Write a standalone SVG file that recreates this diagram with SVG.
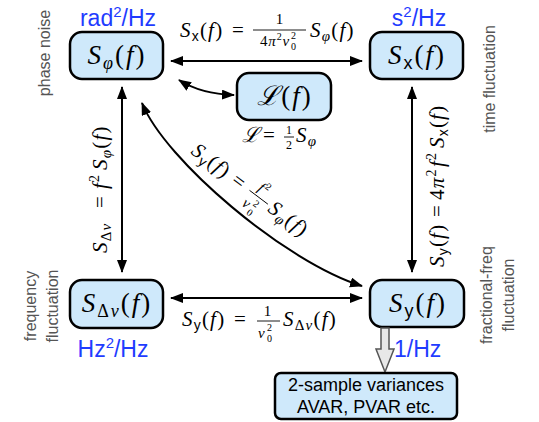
<svg xmlns="http://www.w3.org/2000/svg" width="539" height="422" viewBox="0 0 539 422">
<style>
.node rect{fill:#cfe9fb;stroke:#000;stroke-width:2.5}
.unit{font-family:"Liberation Sans",Arial,sans-serif;font-size:23px;fill:#1f3cff}
.side{font-family:"Liberation Sans",Arial,sans-serif;font-size:16px;fill:#555}
.m{font-family:"Liberation Serif","DejaVu Serif",serif;font-style:italic;fill:#000}
.e{font-size:21px;letter-spacing:1.2px}
.nm{font-size:27px;letter-spacing:2px}
.fr{font-size:15px;letter-spacing:0.8px}
.ix{font-family:"Liberation Serif","DejaVu Serif",serif;font-style:normal;font-size:10px;fill:#000}
.r{font-style:normal}
.s{font-family:"Liberation Sans",Arial,sans-serif;font-style:normal}
.box{font-family:"Liberation Sans",Arial,sans-serif;font-size:18px;fill:#000}
.conn path{stroke:#000;stroke-width:2;fill:none;marker-start:url(#ah);marker-end:url(#ah)}
.bar{stroke:#000;stroke-width:0.9}
</style>
<defs>
<marker id="ah" markerUnits="userSpaceOnUse" markerWidth="14" markerHeight="12" refX="12" refY="5" orient="auto-start-reverse">
<path d="M0,0 L13,5 L0,10 z" fill="#000"/>
</marker>
</defs>

<g id="side-labels">
<text class="side" transform="translate(50,53) rotate(-90)" text-anchor="middle" font-size="16.5">phase noise</text>
<text class="side" transform="translate(495,79) rotate(-90)" text-anchor="middle">time fluctuation</text>
<text class="side" transform="translate(36,306) rotate(-90)" text-anchor="middle">frequency</text>
<text class="side" transform="translate(58,306) rotate(-90)" text-anchor="middle">fluctuation</text>
<text class="side" transform="translate(492,295) rotate(-90)" text-anchor="middle">fractional-freq</text>
<text class="side" transform="translate(514,295) rotate(-90)" text-anchor="middle">fluctuation</text>
</g>

<g id="connectors" class="conn">
<path d="M171,61 L362,61"/>
<path d="M171,298 L362,298"/>
<path d="M122,87 L122,272"/>
<path d="M412,87 L412,272"/>
<path d="M179,80 Q201,94 234,95"/>
<path d="M142,103 C165,160 285,262 362,286"/>
</g>

<g id="edge-labels">
<!-- top -->
<text class="m e" x="180" y="37">S<tspan class="s" font-size="14" dy="4">x</tspan><tspan class="r" dy="-4">(</tspan>f<tspan class="r">)</tspan></text>
<text class="m r e" x="232" y="37">=</text>
<text class="m r fr" x="280" y="24" text-anchor="middle">1</text>
<line class="bar" x1="253" y1="30" x2="306" y2="30"/>
<text class="m fr" x="260" y="46"><tspan class="r">4</tspan>π<tspan class="r" font-size="10" dy="-6">2</tspan><tspan dy="6">ν</tspan></text>
<text class="ix" x="291" y="50">0</text>
<text class="ix" x="291" y="39">2</text>
<text class="m e" x="310" y="37">S<tspan font-size="15" dy="4">φ</tspan><tspan class="r" dy="-4">(</tspan>f<tspan class="r">)</tspan></text>

<!-- bottom -->
<text class="m e" x="182" y="326">S<tspan class="s" font-size="14" dy="4">y</tspan><tspan class="r" dy="-4">(</tspan>f<tspan class="r">)</tspan></text>
<text class="m r e" x="234" y="326">=</text>
<text class="m r fr" x="268" y="316" text-anchor="middle">1</text>
<line class="bar" x1="257" y1="321" x2="280" y2="321"/>
<text class="m fr" x="258" y="338">ν</text>
<text class="ix" x="267" y="342">0</text>
<text class="ix" x="267" y="331">2</text>
<text class="m e" x="283" y="326">S<tspan class="r" font-size="15" dy="4">Δ</tspan><tspan font-size="15">ν</tspan><tspan class="r" dy="-4">(</tspan>f<tspan class="r">)</tspan></text>

<!-- left vertical -->
<g transform="translate(107,253) rotate(-90)">
<text class="m e" x="0" y="0">S<tspan class="r" font-size="15" dy="4">Δ</tspan><tspan font-size="15">ν</tspan></text>
<text class="m r e" x="45" y="0">=</text>
<text class="m e" x="64" y="0">f<tspan class="r" font-size="14" dy="-8">2</tspan></text>
<text class="m e" x="83" y="0">S<tspan font-size="15" dy="4">φ</tspan><tspan class="r" dy="-4">(</tspan>f<tspan class="r">)</tspan></text>
</g>

<!-- right vertical -->
<g transform="translate(444,267) rotate(-90)">
<text class="m e" x="0" y="0">S<tspan class="s" font-size="14" dy="4">y</tspan><tspan class="r" dy="-4">(</tspan>f<tspan class="r">)</tspan></text>
<text class="m r e" x="50" y="0">=</text>
<text class="m e" x="67" y="0"><tspan class="r">4</tspan>π<tspan class="r" font-size="14" dy="-8">2</tspan></text>
<text class="m e" x="100" y="0">f<tspan class="r" font-size="14" dy="-8">2</tspan></text>
<text class="m e" x="119" y="0">S<tspan class="s" font-size="14" dy="4">x</tspan><tspan class="r" dy="-4">(</tspan>f<tspan class="r">)</tspan></text>
</g>

<!-- diagonal -->
<g transform="translate(190,153) rotate(37)">
<text class="m e" x="0" y="0">S<tspan class="s" font-size="14" dy="4">y</tspan><tspan class="r" dy="-4">(</tspan>f<tspan class="r">)</tspan></text>
<text class="m r e" x="50" y="0">=</text>
<text class="m fr" x="81" y="-11" text-anchor="middle">f<tspan class="r" font-size="10" dy="-6">2</tspan></text>
<line class="bar" x1="70" y1="-6" x2="93" y2="-6"/>
<text class="m fr" x="72" y="11">ν</text>
<text class="ix" x="81" y="15">0</text>
<text class="ix" x="81" y="4">2</text>
<text class="m e" x="96" y="0">S<tspan font-size="15" dy="4">φ</tspan><tspan class="r" dy="-4">(</tspan>f<tspan class="r">)</tspan></text>
</g>

<!-- L relation -->
<text class="m e" x="242" y="142">ℒ</text>
<text class="m r e" x="263" y="142">=</text>
<text class="m r" x="289" y="134" font-size="12" text-anchor="middle">1</text>
<line class="bar" x1="284" y1="137" x2="294" y2="137"/>
<text class="m r" x="289" y="149" font-size="12" text-anchor="middle">2</text>
<text class="m e" x="296" y="142">S<tspan font-size="15" dy="4">φ</tspan></text>
</g>

<g id="n-sphi" class="node">
<rect x="70" y="32" width="93" height="47" rx="12"/>
<text class="m nm" x="117" y="64" text-anchor="middle">S<tspan font-size="18" dy="5">φ</tspan><tspan class="r" dy="-5">(</tspan>f<tspan class="r">)</tspan></text>
<text class="unit" x="118" y="26" text-anchor="middle">rad<tspan font-size="15" dy="-9">2</tspan><tspan dy="9">/Hz</tspan></text>
</g>

<g id="n-sx" class="node">
<rect x="370" y="32" width="93" height="47" rx="12"/>
<text class="m nm" x="417" y="64" text-anchor="middle">S<tspan class="s" font-size="18" dy="5">x</tspan><tspan class="r" dy="-5">(</tspan>f<tspan class="r">)</tspan></text>
<text class="unit" x="419" y="26" text-anchor="middle">s<tspan font-size="15" dy="-9">2</tspan><tspan dy="9">/Hz</tspan></text>
</g>

<g id="n-L" class="node">
<rect x="237" y="73" width="94" height="47" rx="12"/>
<text class="m nm" x="285" y="105" text-anchor="middle">ℒ<tspan class="r">(</tspan>f<tspan class="r">)</tspan></text>
</g>

<g id="n-sdnu" class="node">
<rect x="70" y="280" width="93" height="48" rx="12"/>
<text class="m nm" x="117" y="312" text-anchor="middle">S<tspan class="r" font-size="18" dy="5">Δ</tspan><tspan font-size="18">ν</tspan><tspan class="r" dy="-5">(</tspan>f<tspan class="r">)</tspan></text>
<text class="unit" x="113" y="357" text-anchor="middle">Hz<tspan font-size="15" dy="-9">2</tspan><tspan dy="9">/Hz</tspan></text>
</g>

<g id="n-sy" class="node">
<rect x="370" y="280" width="94" height="47" rx="12"/>
<text class="m nm" x="418" y="312" text-anchor="middle">S<tspan class="s" font-size="18" dy="5">y</tspan><tspan class="r" dy="-5">(</tspan>f<tspan class="r">)</tspan></text>
<text class="unit" x="394" y="357">1/Hz</text>
</g>

<g id="hollow-arrow">
<path d="M381,328 L389,328 L389,349 L394,349 L385,372 L376,349 L381,349 z" fill="#e8e8e8" stroke="#555" stroke-width="1.5"/>
</g>

<g id="n-avar" class="node">
<rect x="275" y="373" width="182" height="46" rx="6"/>
<text class="box" x="366" y="391" text-anchor="middle">2-sample variances</text>
<text class="box" x="366" y="413" text-anchor="middle">AVAR, PVAR etc.</text>
</g>
</svg>
